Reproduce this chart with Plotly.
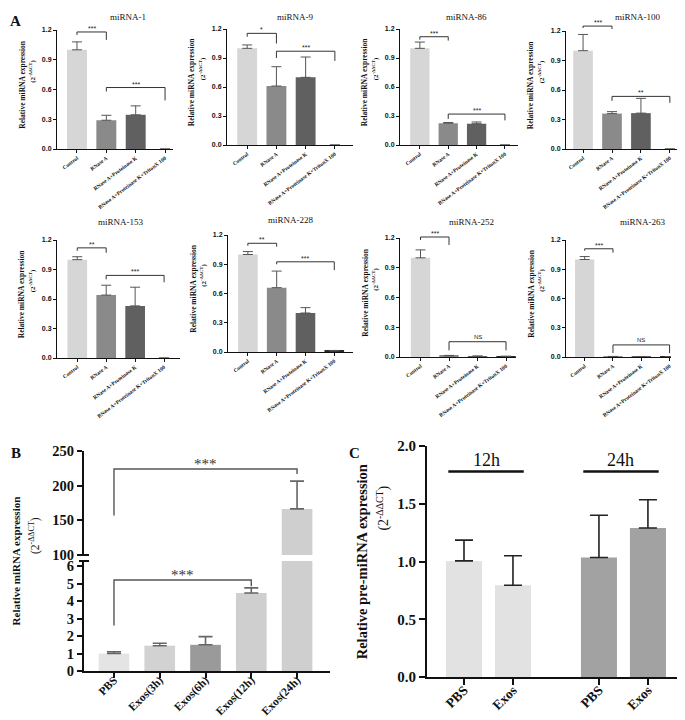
import plotly.graph_objects as go

W, H = 685, 720
SERIF = "Liberation Serif"
SANS = "Liberation Sans"

# ---------------- data: panel A ----------------
CATS_A = ["Control", "RNase A", "RNase A+Proteinase K", "RNase A+Proteinase K+TritonX 100"]
MIRNA_NAMES = ["miRNA-1", "miRNA-9", "miRNA-86", "miRNA-100",
               "miRNA-153", "miRNA-228", "miRNA-252", "miRNA-263"]
A_TICKS = [0.0, 0.3, 0.6, 0.9, 1.2]

MIR1_MEAN = [1.00, 0.29, 0.345, 0.0]
MIR1_SD = [0.08, 0.05, 0.09, 0.0]
MIR9_MEAN = [1.00, 0.61, 0.70, 0.0]
MIR9_SD = [0.035, 0.20, 0.21, 0.0]
MIR86_MEAN = [1.00, 0.225, 0.22, 0.0]
MIR86_SD = [0.065, 0.008, 0.018, 0.0]
MIR100_MEAN = [1.00, 0.36, 0.365, 0.0]
MIR100_SD = [0.165, 0.02, 0.15, 0.0]
MIR153_MEAN = [1.00, 0.64, 0.53, 0.0]
MIR153_SD = [0.03, 0.10, 0.19, 0.0]
MIR228_MEAN = [1.00, 0.66, 0.40, 0.012]
MIR228_SD = [0.03, 0.17, 0.055, 0.004]
MIR252_MEAN = [1.00, 0.012, 0.008, 0.006]
MIR252_SD = [0.08, 0.004, 0.002, 0.002]
MIR263_MEAN = [1.00, 0.004, 0.003, 0.002]
MIR263_SD = [0.03, 0.002, 0.001, 0.001]

# significance brackets: (from, to, height, left leg end, right leg end, label)
MIR1_SIG = [(0, 1, 1.18, 1.15, 1.10, "***"), (1, 3, 0.62, 0.58, 0.49, "***")]
MIR9_SIG = [(0, 1, 1.155, 1.12, 1.05, "*"), (1, 3, 0.97, 0.90, 0.87, "***")]
MIR86_SIG = [(0, 1, 1.12, 1.09, 1.08, "***"), (1, 3, 0.32, 0.27, 0.255, "***")]
MIR100_SIG = [(0, 1, 1.25, 1.23, 1.22, "***"), (1, 3, 0.535, 0.49, 0.47, "**")]
MIR153_SIG = [(0, 1, 1.12, 1.09, 1.07, "**"), (1, 3, 0.84, 0.80, 0.77, "***")]
MIR228_SIG = [(0, 1, 1.115, 1.09, 1.08, "**"), (1, 3, 0.925, 0.90, 0.84, "***")]
MIR252_SIG = [(0, 1, 1.21, 1.18, 1.13, "***"), (1, 3, 0.154, 0.067, 0.067, "NS")]
MIR263_SIG = [(0, 1, 1.11, 1.09, 1.07, "***"), (1, 3, 0.124, 0.04, 0.04, "NS")]

A_MEANS = [MIR1_MEAN, MIR9_MEAN, MIR86_MEAN, MIR100_MEAN,
           MIR153_MEAN, MIR228_MEAN, MIR252_MEAN, MIR263_MEAN]
A_SDS = [MIR1_SD, MIR9_SD, MIR86_SD, MIR100_SD,
         MIR153_SD, MIR228_SD, MIR252_SD, MIR263_SD]
A_SIGS = [MIR1_SIG, MIR9_SIG, MIR86_SIG, MIR100_SIG,
          MIR153_SIG, MIR228_SIG, MIR252_SIG, MIR263_SIG]

# ---------------- data: panel B ----------------
CATS_B = ["PBS", "Exos(3h)", "Exos(6h)", "Exos(12h)", "Exos(24h)"]
B_MEAN = [1.0, 1.45, 1.5, 4.47, 166.5]
B_SD = [0.10, 0.14, 0.47, 0.29, 40.0]
B_LOW_TICKS = [0, 1, 2, 3, 4, 5, 6]
B_HIGH_TICKS = [100, 150, 200, 250]
B_SIG_LOW = [(0, 3, 5.21, 2.6, 4.85, "***")]
B_SIG_HIGH = [(0, 4, 224, 157, 217, "***")]

# ---------------- data: panel C ----------------
GROUPS_C = ["12h", "24h"]
CATS_C = ["PBS", "Exos"]
C_MEAN_12H = [1.005, 0.795]
C_SD_12H = [0.18, 0.255]
C_MEAN_24H = [1.035, 1.29]
C_SD_24H = [0.365, 0.245]
C_TICKS = [0.0, 0.5, 1.0, 1.5, 2.0]
C_GROUP_LINE_Y = 1.78

# ---------------- styling / layout ----------------
A_COLORS = ["#d6d6d6", "#8a8a8a", "#606060", "#2a2a2a"]
B_COLORS = ["#e4e4e4", "#d2d2d2", "#9a9a9a", "#cfcfcf", "#cfcfcf"]
C_COLORS = ["#e2e2e2", "#a2a2a2"]
INK = "#111111"

# axis left px, axis right px, top(1.2) px, zero px, x range, title x px, title y px
A_FRAMES = [
    (49, 165, 22, 141, (-0.68, 3.27), 120, 9),
    (219, 345, 21, 137, (-0.69, 3.62), 287, 9),
    (392, 510, 21, 137, (-0.70, 3.46), 458, 9),
    (558, 685, 23, 141, (-0.59, 3.80), 630, 9),
    (49, 172, 232, 350, (-0.70, 3.55), 113, 214),
    (220, 345, 227, 344, (-0.69, 3.65), 283, 212),
    (392, 508, 230, 349, (-0.72, 3.35), 463, 214),
    (558, 663, 232, 349, (-0.66, 3.05), 635, 214),
]


def px_x(p):
    return p / W


def px_y(p):
    return 1 - p / H


fig = go.Figure()
layout = {}
annotations = []
shapes = []
n_axes = [0]


def new_axes(xdom, ydom, xkw, ykw):
    n_axes[0] += 1
    n = n_axes[0]
    s = '' if n == 1 else str(n)
    layout['xaxis' + s] = dict(domain=xdom, anchor='y' + s, **xkw)
    layout['yaxis' + s] = dict(domain=ydom, anchor='x' + s, **ykw)
    return 'x' + s, 'y' + s


def axis_style(lw, tl, tw, font):
    return dict(showline=True, linecolor=INK, linewidth=lw, ticks='outside',
                ticklen=tl, tickwidth=tw, tickcolor=INK, showgrid=False,
                zeroline=False, tickfont=font, ticklabeloverflow='allow',
                fixedrange=True)


HIDDEN = dict(visible=False, showgrid=False, zeroline=False, fixedrange=True)


def paper_text(x, y, text, font, angle=0, comp=0.0):
    x = x - comp * font['size']
    annotations.append(dict(x=px_x(x), y=px_y(y), xref='paper', yref='paper',
                            xanchor='center', yanchor='middle', text=text,
                            textangle=angle, showarrow=False, font=font))


def add_bracket(xa, ya, sig, lw, color, font, yshift):
    i, j, h, ll, rl, lab = sig
    fig.add_trace(go.Scatter(x=[i, i, j, j], y=[ll, h, h, rl], mode='lines',
                             line=dict(color=color, width=lw), xaxis=xa, yaxis=ya,
                             hoverinfo='skip', showlegend=False))
    annotations.append(dict(x=(i + j) / 2, y=h, xref=xa, yref=ya, text=lab,
                            showarrow=False, xanchor='center', yanchor='bottom',
                            yshift=yshift, font=font))


# ---------------- panel A ----------------
for k in range(8):
    l, r, ytop, y0, xr, tx, ty = A_FRAMES[k]
    xs = list(range(len(CATS_A)))
    xkw = axis_style(1, 3, 1, dict(family=SERIF, size=5.4, color=INK, weight='bold'))
    xkw.update(range=list(xr), tickvals=xs, ticktext=CATS_A, tickangle=-37)
    ykw = axis_style(1, 3, 1, dict(family=SANS, size=7, color=INK, weight='bold'))
    ykw.update(range=[0, 1.2], tickvals=A_TICKS, tickformat='.1f')
    xa, ya = new_axes([px_x(l), px_x(r)], [px_y(y0), px_y(ytop)], xkw, ykw)
    fig.add_trace(go.Bar(
        x=xs, y=A_MEANS[k], width=0.68,
        marker=dict(color=A_COLORS, line=dict(width=0)),
        error_y=dict(type='data', symmetric=False, array=A_SDS[k],
                     arrayminus=[0] * len(xs), color='#555555', thickness=1, width=5),
        xaxis=xa, yaxis=ya, showlegend=False, hoverinfo='skip'))
    # overlay (taller) axes for brackets so they are not clipped
    ext = 15
    yr_top = 1.2 * (y0 - (ytop - ext)) / (y0 - ytop)
    bxa, bya = new_axes([px_x(l), px_x(r)], [px_y(y0), px_y(ytop - ext)],
                        dict(range=list(xr), **HIDDEN), dict(range=[0, yr_top], **HIDDEN))
    for sig in A_SIGS[k]:
        add_bracket(bxa, bya, sig, 1, '#333333',
                    dict(family=SANS, size=7 if sig[5] != "NS" else 6, color='#222222'),
                    -2 if sig[5] != "NS" else 0)
    paper_text(tx, ty, MIRNA_NAMES[k], dict(family=SERIF, size=9, color=INK))
    yc = (ytop + y0) / 2
    paper_text(l - 34, yc - 5, "<b>Relative miRNA expression</b>",
               dict(family=SERIF, size=7.5, color=INK), -90, 0.1)
    paper_text(l - 24, yc - 18, "<b>(2<sup>-ΔΔCT</sup>)</b>",
               dict(family=SERIF, size=7, color=INK), -90, 0.1)

# ---------------- panel B ----------------
B_L, B_R = 76, 322
B_XR = [-0.655, 4.72]
B_LOW_BOT, B_LOW_TOP = 663, 553
B_HI_BOT, B_HI_TOP = 547, 443
xs_b = list(range(len(CATS_B)))

xkw = axis_style(2, 5, 2, dict(family=SERIF, size=11.5, color=INK, weight='bold'))
xkw.update(range=B_XR, tickvals=xs_b, ticktext=CATS_B, tickangle=-45, ticklabelstandoff=-9)
ykw = axis_style(2, 5, 2, dict(family=SERIF, size=14.5, color=INK, weight='bold'))
ykw.update(range=[0, 6.3], tickvals=B_LOW_TICKS)
bxl, byl = new_axes([px_x(B_L), px_x(B_R)], [px_y(B_LOW_BOT), px_y(B_LOW_TOP)], xkw, ykw)

ykw2 = axis_style(2, 5, 2, dict(family=SERIF, size=14.5, color=INK, weight='bold'))
ykw2.update(range=[100, 250], tickvals=B_HIGH_TICKS)
bxh, byh = new_axes([px_x(B_L), px_x(B_R)], [px_y(B_HI_BOT), px_y(B_HI_TOP)],
                    dict(range=B_XR, **HIDDEN), ykw2)

for xa, ya in ((bxl, byl), (bxh, byh)):
    fig.add_trace(go.Bar(
        x=xs_b, y=B_MEAN, width=0.67,
        marker=dict(color=B_COLORS, line=dict(width=0)),
        error_y=dict(type='data', symmetric=False, array=B_SD,
                     arrayminus=[0] * len(xs_b), color='#666666', thickness=1.6, width=7),
        xaxis=xa, yaxis=ya, showlegend=False, hoverinfo='skip'))

for sig in B_SIG_LOW:
    add_bracket(bxl, byl, sig, 1.4, '#555555', dict(family=SERIF, size=15, color='#333333'), -5)
for sig in B_SIG_HIGH:
    add_bracket(bxh, byh, sig, 1.4, '#555555', dict(family=SERIF, size=15, color='#333333'), -5)

# axis break marks
for yb in (B_HI_BOT, B_LOW_TOP):
    shapes.append(dict(type='line', xref='paper', yref='paper',
                       x0=px_x(B_L - 5), x1=px_x(B_L + 5), y0=px_y(yb), y1=px_y(yb),
                       line=dict(color=INK, width=2)))

yc_b = (B_HI_TOP + B_LOW_BOT) / 2
paper_text(15, yc_b, "<b>Relative miRNA expression</b>",
           dict(family=SERIF, size=11, color=INK), -90, 0.6)
paper_text(33, yc_b - 25, "(2<sup>-ΔΔCT</sup>)",
           dict(family=SERIF, size=11.5, color=INK), -90, 0.6)

# ---------------- panel C ----------------
C_L, C_R = 419, 673
C_BOT, C_TOP = 669, 438
C_XR = [-0.755, 4.43]
C_GROUP_STEP = 2.755
xkw = axis_style(2, 6, 2, dict(family=SERIF, size=13.5, color=INK, weight='bold'))
c_pos = [g * C_GROUP_STEP + k for g in range(len(GROUPS_C)) for k in range(len(CATS_C))]
c_lab = [c for g in GROUPS_C for c in CATS_C]
xkw.update(range=C_XR, tickvals=c_pos, ticktext=c_lab, tickangle=-45, ticklabelstandoff=-8)
ykw = axis_style(2, 6, 2, dict(family=SERIF, size=15, color=INK, weight='bold'))
ykw.update(range=[0, 2.0], tickvals=C_TICKS, tickformat='.1f')
cxa, cya = new_axes([px_x(C_L), px_x(C_R)], [px_y(C_BOT), px_y(C_TOP)], xkw, ykw)

for g, (means, sds) in enumerate(((C_MEAN_12H, C_SD_12H), (C_MEAN_24H, C_SD_24H))):
    xg = [g * C_GROUP_STEP + k for k in range(len(CATS_C))]
    fig.add_trace(go.Bar(
        x=xg, y=means, width=0.735,
        marker=dict(color=C_COLORS[g], line=dict(width=0)),
        error_y=dict(type='data', symmetric=False, array=sds,
                     arrayminus=[0] * len(sds), color='#222222', thickness=1.6, width=9),
        xaxis=cxa, yaxis=cya, showlegend=False, hoverinfo='skip'))
    gl, gr = xg[0] - 0.32, xg[-1] + 0.22
    fig.add_trace(go.Scatter(x=[gl, gr], y=[C_GROUP_LINE_Y, C_GROUP_LINE_Y], mode='lines',
                             line=dict(color=INK, width=2.5), xaxis=cxa, yaxis=cya,
                             hoverinfo='skip', showlegend=False))
    annotations.append(dict(x=(gl + gr) / 2, y=C_GROUP_LINE_Y, xref=cxa, yref=cya,
                            text=GROUPS_C[g], showarrow=False, xanchor='center',
                            yanchor='bottom', yshift=-1,
                            font=dict(family=SERIF, size=18, color=INK)))

paper_text(363, 554, "<b>Relative pre-miRNA expression</b>",
           dict(family=SERIF, size=14.5, color=INK), -90, 0.6)
paper_text(383, 500, "(2<sup>-ΔΔCT</sup>)",
           dict(family=SERIF, size=14, color=INK), -90, 0.6)

# ---------------- panel letters ----------------
for lab, x, y in (("A", 8, 13), ("B", 8, 445), ("C", 346, 445)):
    paper_text(x, y, "<b>%s</b>" % lab, dict(family=SERIF, size=15, color=INK))

fig.update_layout(
    width=W, height=H, margin=dict(l=0, r=0, t=0, b=0),
    template='none', paper_bgcolor='white', plot_bgcolor='rgba(0,0,0,0)',
    barmode='overlay', showlegend=False, hovermode=False,
    annotations=annotations, shapes=shapes, **layout)

fig.write_html("out.html")
